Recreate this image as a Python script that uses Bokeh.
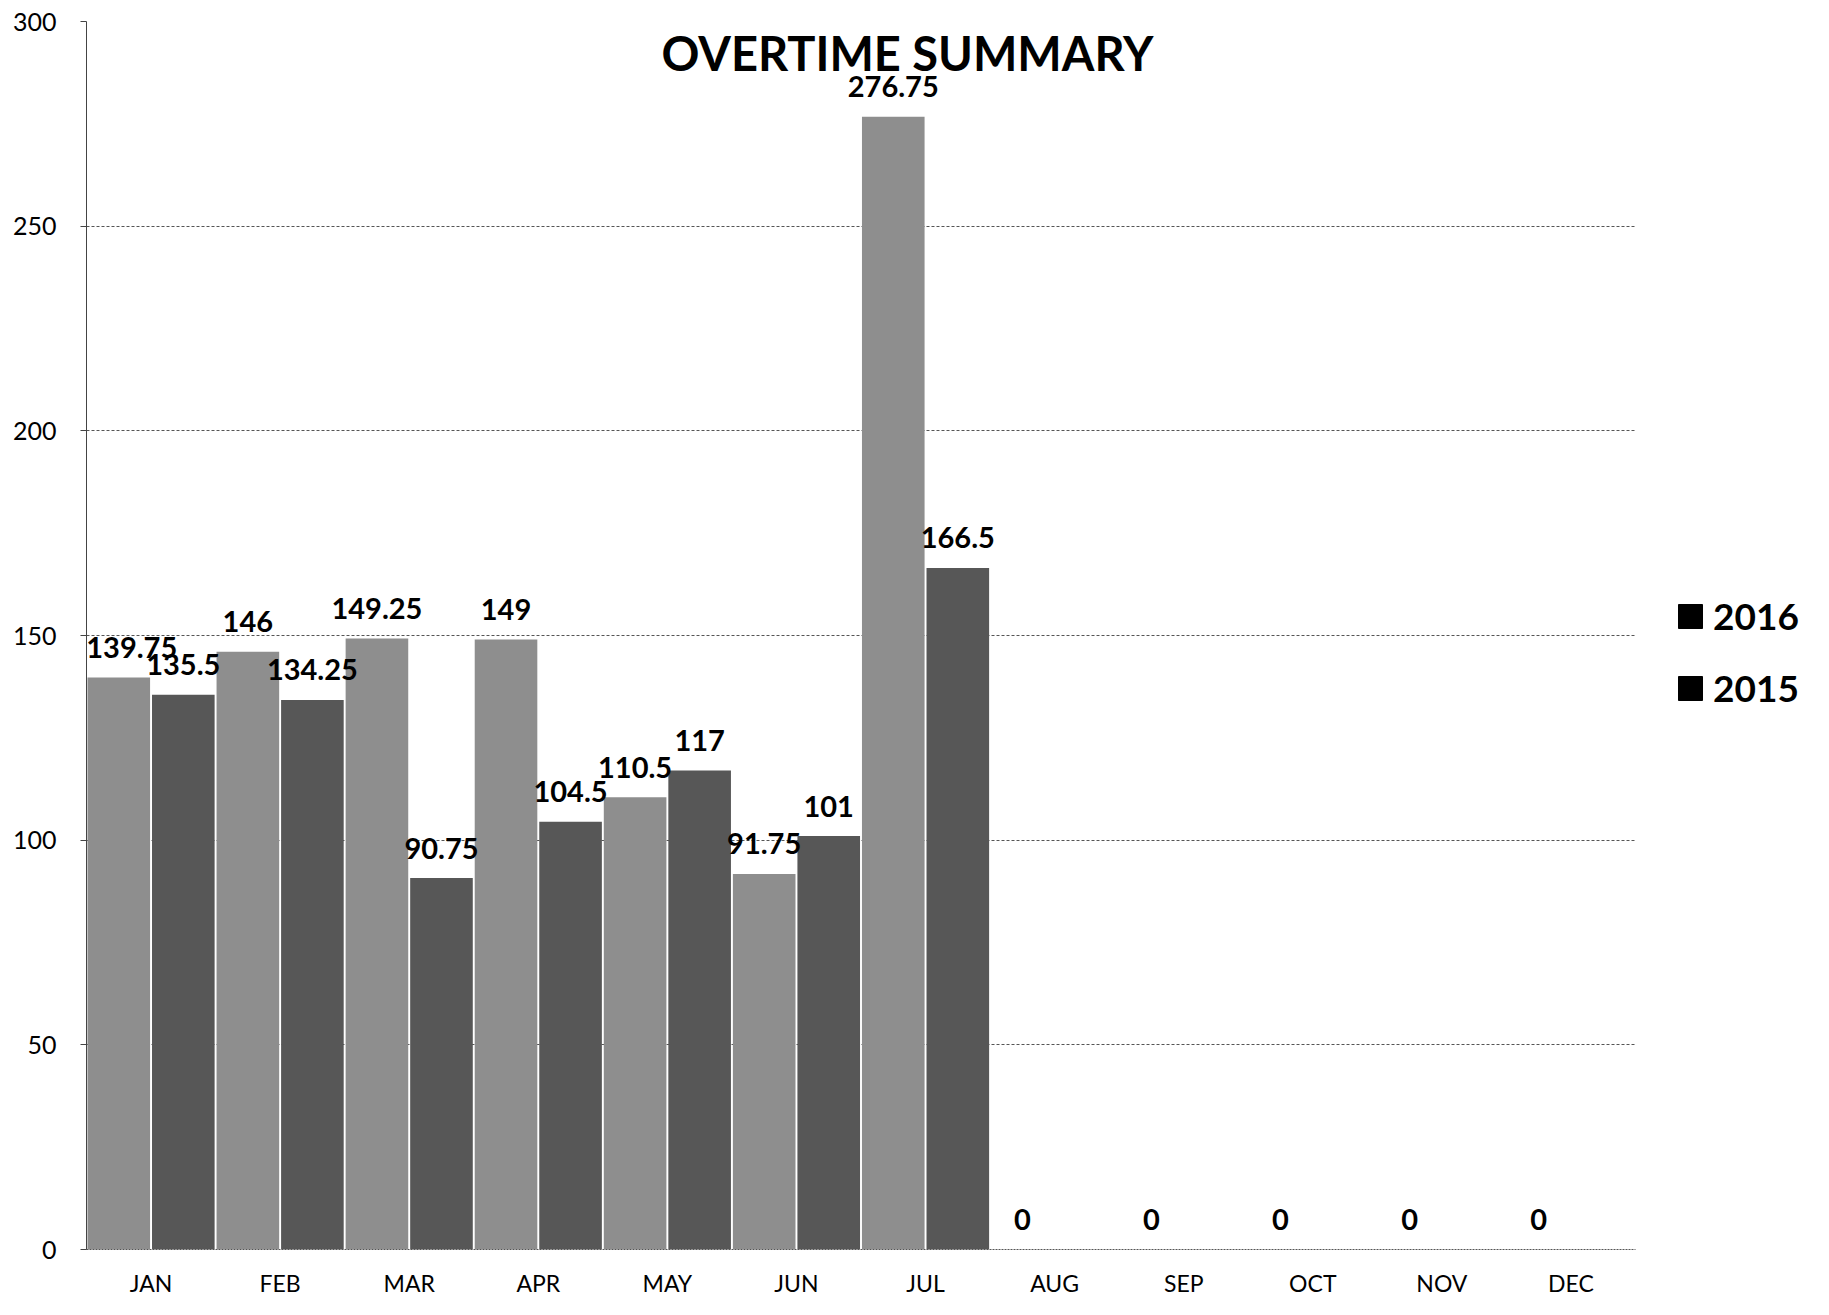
from bokeh.plotting import figure
from bokeh.layouts import row
from bokeh.models import (ColumnDataSource, Label, LabelSet, Legend, LegendItem, FixedTicker,
                          Range1d, FactorRange)
from bokeh.transform import dodge
from bokeh.core.properties import value
from bokeh.embed import file_html
from bokeh.resources import INLINE

months = ["JAN", "FEB", "MAR", "APR", "MAY", "JUN", "JUL", "AUG", "SEP", "OCT", "NOV", "DEC"]
ot_2016 = [139.75, 146, 149.25, 149, 110.5, 91.75, 276.75, 0, 0, 0, 0, 0]
ot_2015 = [135.5, 134.25, 90.75, 104.5, 117, 101, 166.5]
y_ticks = [0, 50, 100, 150, 200, 250, 300]
series_names = ["2016", "2015"]
title_text = "OVERTIME SUMMARY"

LIGHT = "#8e8e8e"
DARK = "#575757"
FONT = "Lato"
H = 1311

def fmt(v):
    return f"{v:g}"

# the first label would be clipped by the plot frame: nudge it inward
shift16 = [13 if i == 0 else 0 for i in range(len(ot_2016))]
shift15 = [0 for _ in ot_2015]

src16 = ColumnDataSource(dict(month=months, v=ot_2016, lbl=[fmt(v) for v in ot_2016], dx=shift16))
src15 = ColumnDataSource(dict(month=months[:len(ot_2015)], v=ot_2015,
                              lbl=[fmt(v) for v in ot_2015], dx=shift15))

p = figure(x_range=FactorRange(factors=months, range_padding=0), y_range=Range1d(0, 300),
           width=1645, height=H, output_backend="svg", toolbar_location=None,
           min_border_left=86, min_border_right=10, min_border_top=21, min_border_bottom=62)
p.outline_line_color = None
p.background_fill_color = "white"
p.border_fill_color = "white"

# bars
p.vbar(x=dodge("month", -0.25, range=p.x_range), top="v", width=0.485, bottom=0,
       source=src16, fill_color=LIGHT, line_color=None)
p.vbar(x=dodge("month", 0.25, range=p.x_range), top="v", width=0.485, bottom=0,
       source=src15, fill_color=DARK, line_color=None)

# value labels
for src, off in ((src16, -0.25), (src15, 0.25)):
    p.add_layout(LabelSet(x=dodge("month", off, range=p.x_range), y="v", text="lbl", source=src,
                          x_offset="dx", text_align="center", text_baseline="middle", y_offset=30,
                          text_font=value(FONT), text_font_style="bold", text_font_size="29px",
                          text_color="black"))

# title inside plot area
p.add_layout(Label(x=6.36, y=292.4, text=title_text, text_align="center", text_baseline="middle",
                   text_font=FONT, text_font_style="bold", text_font_size="47px",
                   text_color="black"))

# y axis
p.yaxis.ticker = FixedTicker(ticks=y_ticks)
p.yaxis.major_label_text_font = FONT
p.yaxis.major_label_text_font_size = "25px"
p.yaxis.major_label_text_color = "black"
p.yaxis.major_tick_in = 0
p.yaxis.major_tick_out = 6
p.yaxis.minor_tick_line_color = None
p.yaxis.major_label_standoff = 24
p.yaxis.axis_line_color = "#444444"
p.yaxis.major_tick_line_color = "#444444"

# x axis
p.xaxis.major_label_text_font = FONT
p.xaxis.major_label_text_font_size = "23px"
p.xaxis.major_label_text_color = "black"
p.xaxis.major_tick_line_color = None
p.xaxis.major_label_standoff = 13
p.xaxis.axis_line_color = "#555555"
p.xaxis.axis_line_dash = "2 1"

p.xgrid.grid_line_color = None
p.ygrid.grid_line_color = "#555555"
p.ygrid.grid_line_dash = "3 2"
p.ygrid.grid_line_width = 1

# legend in its own narrow figure to the right (black squares as in the reference)
q = figure(width=180, height=H, output_backend="svg", toolbar_location=None,
           x_range=Range1d(0, 1), y_range=Range1d(0, 1),
           min_border_left=0, min_border_right=0, min_border_top=0, min_border_bottom=0)
q.axis.visible = False
q.grid.grid_line_color = None
q.outline_line_color = None
q.background_fill_color = "white"
q.border_fill_color = "white"
dummy = ColumnDataSource(dict(x=[0.5], v=[float("nan")]))
r16 = q.vbar(x="x", top="v", width=0.1, source=dummy, fill_color="black", line_color="black")
r15 = q.vbar(x="x", top="v", width=0.1, source=dummy, fill_color="black", line_color="black")
legend = Legend(items=[LegendItem(label=series_names[0], renderers=[r16]),
                       LegendItem(label=series_names[1], renderers=[r15])],
                location=(30, 539), orientation="vertical",
                glyph_width=30, glyph_height=30, label_standoff=8, label_height=38,
                label_text_font=FONT, label_text_font_style="bold", label_text_font_size="37px",
                label_text_color="black", label_text_baseline="middle",
                spacing=27, border_line_color=None, background_fill_alpha=0,
                margin=0, padding=0)
q.add_layout(legend, "center")

layout = row(p, q)
open("out.html", "w").write(file_html(layout, INLINE))
